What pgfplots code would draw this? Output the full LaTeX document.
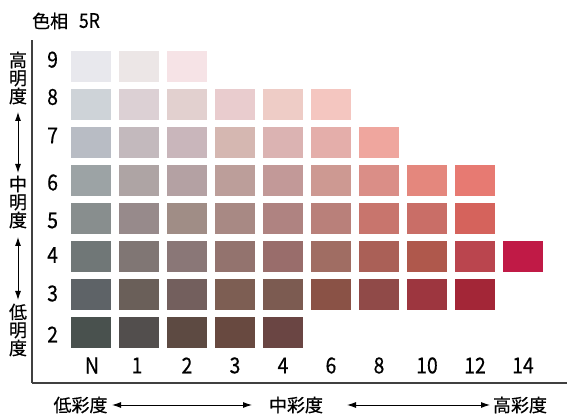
\documentclass[border=0pt]{standalone}
\usepackage{fontspec}
\setmainfont{Noto Sans CJK JP}[FakeBold=0.5]
\usepackage{graphicx}
\usepackage{pgfplots}
\usepackage{pgfplotstable}
\pgfplotsset{compat=1.18}
\usetikzlibrary{arrows.meta}

% column index c: 0=N, 1,2,3,4, 5=6, 6=8, 7=10, 8=12, 9=14 ; v = value (明度)
\pgfplotstableread{
c v rgb
0 9 232,232,237
1 9 236,230,230
2 9 246,227,230
0 8 206,211,216
1 8 220,208,212
2 8 226,208,207
3 8 233,204,206
4 8 238,204,198
5 8 244,198,192
0 7 184,188,196
1 7 195,185,189
2 7 201,182,187
3 7 213,183,177
4 7 219,179,178
5 7 228,174,170
6 7 239,166,158
0 6 156,163,165
1 6 174,164,164
2 6 180,161,163
3 6 188,158,154
4 6 194,153,152
5 6 205,153,146
6 6 218,142,135
7 6 228,135,125
8 6 231,122,114
0 5 136,142,142
1 5 151,138,139
2 5 160,141,134
3 5 168,137,132
4 5 175,131,129
5 5 185,128,122
6 5 200,117,109
7 5 201,110,103
8 5 213,99,92
0 4 112,119,119
1 4 128,118,116
2 4 138,119,119
3 4 147,115,110
4 4 153,109,107
5 4 160,109,99
6 4 170,96,87
7 4 175,88,76
8 4 186,69,78
9 4 192,26,70
0 3 94,99,103
1 3 106,95,89
2 3 115,95,93
3 3 125,94,83
4 3 124,91,81
5 3 138,82,70
6 3 144,74,72
7 3 157,54,63
8 3 163,38,55
0 2 73,81,78
1 2 82,78,77
2 2 93,74,66
3 2 104,73,64
4 2 106,69,67
}\swatches

\pgfdeclareplotmark{swatch}{%
  \pgfpathrectangle{\pgfpoint{-20pt}{-15.5pt}}{\pgfpoint{40pt}{31pt}}%
  \pgfusepathqfill}

\newcommand{\dig}[1]{\scalebox{0.88}[1]{#1}}

\begin{document}
\begin{tikzpicture}
\path[use as bounding box] (0,0) rectangle (567pt,414pt);
\begin{axis}[
  scale only axis, width=535pt, height=343pt,
  anchor=south west, at={(32pt,31pt)},
  xmin=-1.229, xmax=9.917, ymin=0.671, ymax=9.697,
  axis x line=bottom, axis y line=left,
  axis line style={-, draw=black!75, line width=1.6pt},
  xtick=\empty, ytick=\empty,
  clip=false,
]
\addplot[scatter, only marks, mark=swatch, point meta=explicit symbolic,
  scatter/@pre marker code/.code={%
    \edef\swdef{\noexpand\definecolor{swc}{RGB}{\pgfplotspointmeta}}\swdef
    \pgfsetfillcolor{swc}\pgfsetstrokecolor{swc}},
  scatter/@post marker code/.code={},
] table[x=c,y=v,meta=rgb] {\swatches};

% chroma labels (彩度)
\node[font=\fontsize{22}{22}\selectfont] at (axis cs:0.02,1.132) {\dig{N}};
\node[font=\fontsize{22}{22}\selectfont] at (axis cs:0.96,1.132) {\dig{1}};
\node[font=\fontsize{22}{22}\selectfont] at (axis cs:2,1.132) {\dig{2}};
\node[font=\fontsize{22}{22}\selectfont] at (axis cs:3,1.132) {\dig{3}};
\node[font=\fontsize{22}{22}\selectfont] at (axis cs:4,1.132) {\dig{4}};
\node[font=\fontsize{22}{22}\selectfont] at (axis cs:5,1.132) {\dig{6}};
\node[font=\fontsize{22}{22}\selectfont] at (axis cs:6,1.132) {\dig{8}};
\node[font=\fontsize{22}{22}\selectfont] at (axis cs:7,1.132) {\dig{10}};
\node[font=\fontsize{22}{22}\selectfont] at (axis cs:8,1.132) {\dig{12}};
\node[font=\fontsize{22}{22}\selectfont] at (axis cs:9,1.132) {\dig{14}};
% value labels (明度)
\node[font=\fontsize{22}{22}\selectfont] at (axis cs:-0.80,9.179) {\dig{9}};
\node[font=\fontsize{22}{22}\selectfont] at (axis cs:-0.80,8.197) {\dig{8}};
\node[font=\fontsize{22}{22}\selectfont] at (axis cs:-0.80,7.184) {\dig{7}};
\node[font=\fontsize{22}{22}\selectfont] at (axis cs:-0.80,5.947) {\dig{6}};
\node[font=\fontsize{22}{22}\selectfont] at (axis cs:-0.80,4.947) {\dig{5}};
\node[font=\fontsize{22}{22}\selectfont] at (axis cs:-0.80,4.039) {\dig{4}};
\node[font=\fontsize{22}{22}\selectfont] at (axis cs:-0.80,3.026) {\dig{3}};
\node[font=\fontsize{22}{22}\selectfont] at (axis cs:-0.80,1.947) {\dig{2}};
\end{axis}

% title
\node[anchor=west, font=\fontsize{18}{18}\selectfont, inner sep=0] at (32pt,393pt) {色相\hspace{0.6em}{\fontsize{20}{20}\selectfont\dig{5R}}};

% value (明度) labels
\begin{scope}[font=\fontsize{18}{18}\selectfont, align=center, inner sep=0]
\node at (18pt,336pt) {高\\明\\度};
\node at (18pt,212pt) {中\\明\\度};
\node at (18pt,84pt) {低\\明\\度};
\end{scope}
\draw[line width=0.9pt, {Latex[length=9pt,width=6pt]}-{Latex[length=9pt,width=6pt]}] (18pt,302pt) -- (18pt,241pt);
\draw[line width=0.9pt, {Latex[length=9pt,width=6pt]}-{Latex[length=9pt,width=6pt]}] (18pt,177pt) -- (18pt,114pt);

% chroma (彩度) labels
\begin{scope}[font=\fontsize{18}{18}\selectfont, inner sep=0]
\node at (80.5pt,9pt) {低彩度};
\node at (296pt,9pt) {中彩度};
\node at (520pt,9pt) {高彩度};
\end{scope}
\draw[line width=0.9pt, {Latex[length=9pt,width=6pt]}-{Latex[length=9pt,width=6pt]}] (112pt,9pt) -- (252pt,9pt);
\draw[line width=0.9pt, {Latex[length=9pt,width=6pt]}-{Latex[length=9pt,width=6pt]}] (347pt,9pt) -- (490pt,9pt);
\end{tikzpicture}
\end{document}
